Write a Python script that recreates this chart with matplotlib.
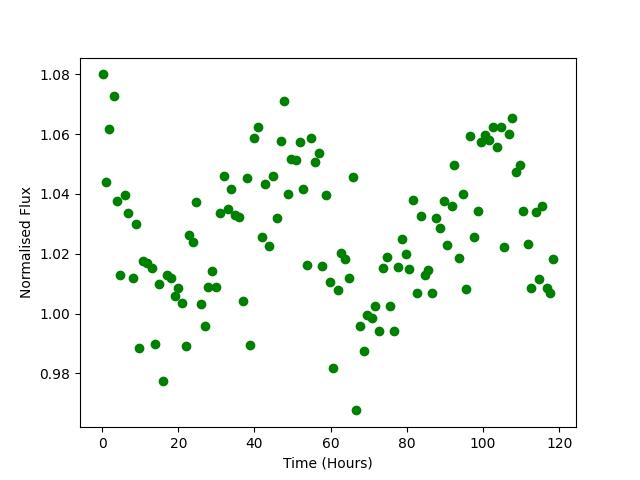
import matplotlib
matplotlib.use("Agg")
import matplotlib.pyplot as plt

time_hours = [
    0.1, 0.9, 1.9, 3.0, 4.0, 4.8, 5.9, 6.9, 8.0, 9.0,
    9.8, 10.8, 11.9, 13.0, 14.0, 14.9, 15.9, 16.9, 18.0, 19.0,
    19.8, 21.0, 21.9, 22.9, 23.8, 24.7, 25.9, 26.9, 27.9, 28.8,
    29.8, 30.9, 31.9, 33.0, 33.8, 34.8, 35.9, 36.9, 37.9, 38.8,
    39.8, 40.9, 41.9, 42.7, 43.8, 44.8, 45.8, 46.9, 47.7, 48.8,
    49.6, 50.9, 51.9, 52.7, 53.8, 54.8, 55.9, 56.9, 57.7, 58.8,
    59.8, 60.7, 61.8, 62.7, 63.8, 64.8, 65.9, 66.7, 67.7, 68.8,
    69.6, 70.9, 71.7, 72.7, 73.8, 74.8, 75.7, 76.7, 77.7, 78.8,
    79.8, 80.6, 81.7, 82.7, 83.8, 84.8, 85.6, 86.7, 87.7, 88.8,
    89.8, 90.6, 91.8, 92.5, 93.8, 94.8, 95.6, 96.7, 97.7, 98.8,
    99.5, 100.6, 101.6, 102.7, 103.8, 104.7, 105.6, 106.7, 107.5, 108.7,
    109.6, 110.6, 111.7, 112.7, 113.8, 114.6, 115.6, 116.7, 117.7, 118.5,
]

norm_flux = [
    1.0800, 1.0441, 1.0618, 1.0729, 1.0378, 1.0130, 1.0398, 1.0337, 1.0120, 1.0301,
    0.9886, 1.0177, 1.0169, 1.0151, 0.9899, 1.0100, 0.9774, 1.0128, 1.0119, 1.0060,
    1.0087, 1.0036, 0.9890, 1.0262, 1.0239, 1.0374, 1.0033, 0.9960, 1.0090, 1.0143,
    1.0090, 1.0337, 1.0461, 1.0351, 1.0418, 1.0328, 1.0324, 1.0041, 1.0452, 0.9896,
    1.0588, 1.0625, 1.0257, 1.0434, 1.0227, 1.0461, 1.0321, 1.0576, 1.0712, 1.0401,
    1.0518, 1.0515, 1.0573, 1.0418, 1.0164, 1.0588, 1.0508, 1.0538, 1.0160, 1.0398,
    1.0107, 0.9819, 1.0080, 1.0201, 1.0184, 1.0120, 1.0458, 0.9676, 0.9957, 0.9876,
    0.9996, 0.9986, 1.0026, 0.9940, 1.0153, 1.0188, 1.0026, 0.9942, 1.0157, 1.0250,
    1.0200, 1.0150, 1.0381, 1.0070, 1.0327, 1.0130, 1.0147, 1.0070, 1.0321, 1.0287,
    1.0378, 1.0230, 1.0361, 1.0498, 1.0187, 1.0401, 1.0083, 1.0595, 1.0257, 1.0344,
    1.0575, 1.0598, 1.0582, 1.0625, 1.0558, 1.0625, 1.0224, 1.0602, 1.0655, 1.0475,
    1.0498, 1.0344, 1.0234, 1.0087, 1.0341, 1.0117, 1.0361, 1.0087, 1.0070, 1.0184,
]

fig, ax = plt.subplots(figsize=(6.4, 4.8), dpi=100)
ax.plot(time_hours, norm_flux, 'o', color='green')
ax.set_xlabel('Time (Hours)')
ax.set_ylabel('Normalised Flux')
fig.savefig('out.png', dpi=100)
